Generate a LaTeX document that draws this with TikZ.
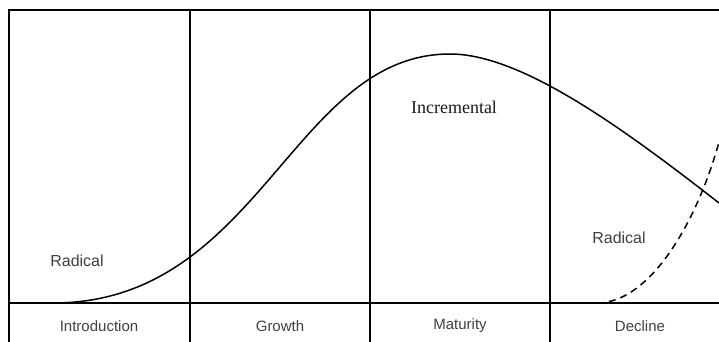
\documentclass[tikz,border=0pt]{standalone}
\usepackage{fontspec}
\setmainfont{Liberation Serif}
\setsansfont{Liberation Sans}
\definecolor{labelgray}{HTML}{404040}
\begin{document}
\begin{tikzpicture}[x=1pt,y=-1pt,
  frame/.style={line width=1.5pt,black},
  curve/.style={line width=1.5pt,black},
  stage/.style={font=\sffamily\fontsize{15}{17}\selectfont,text=labelgray,inner sep=0pt},
  kind/.style={font=\sffamily\fontsize{16}{18}\selectfont,text=labelgray,inner sep=0pt},
  inc/.style={font=\fontsize{18}{20}\selectfont,text=black!90,inner sep=0pt}]
\useasboundingbox (0,0) rectangle (719,342);
% frame
\coordinate (tl) at (9,10);
\coordinate (tr) at (719,10);
\coordinate (bl) at (9,342);
\coordinate (ml) at (9,303);
\coordinate (mr) at (719,303);
\draw[frame] (bl) -- (tl) -- (tr);
\draw[frame] (ml) -- (mr);
\foreach \x in {190,370,550}{
  \draw[frame] (\x,10) -- (\x,342);
}
% stage labels
\node[stage] (intro) at (99,326) {Introduction};
\node[stage] (growth) at (280,326) {Growth};
\node[stage] (mat) at (460,326) {Maturity};
\node[stage] (dec) at (640,326) {Decline};
% life-cycle curve
\coordinate (c0) at (53,303);
\coordinate (peak) at (450,54);
\coordinate (c1) at (719,203);
\draw[curve] (c0) .. controls (259.5,303) and (292.5,54) .. (peak)
  .. controls (520,54) and (619,125) .. (c1);
% new radical curve
\coordinate (d0) at (597,303);
\coordinate (d1) at (719,142);
\draw[curve,dash pattern=on 7pt off 5pt] (d0) .. controls (650,303) and (697,222) .. (d1);
% labels
\node[kind] (rad1) at (77,261) {Radical};
\node[kind] (rad2) at (619,238) {Radical};
\node[inc] (incr) at (454,107) {Incremental};
\end{tikzpicture}
\end{document}
